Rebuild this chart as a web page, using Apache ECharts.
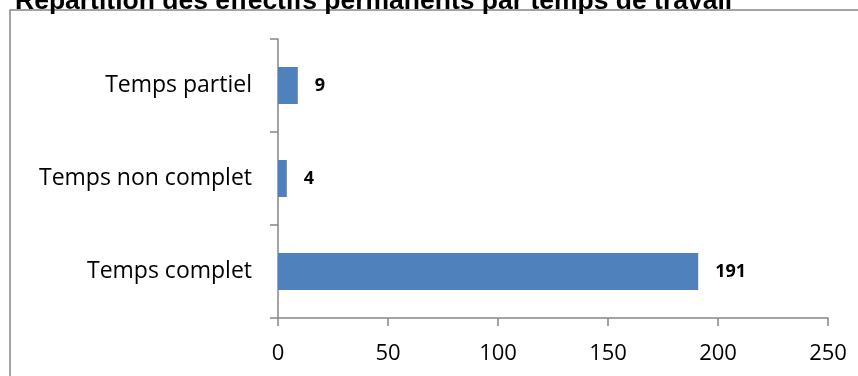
<!DOCTYPE html>
<html>
<head>
<meta charset="utf-8">
<script src="https://cdn.jsdelivr.net/npm/echarts@6/dist/echarts.min.js"></script>
<style>
  html, body { margin: 0; padding: 0; background: #fff; }
  #chart { width: 858px; height: 376px; }
</style>
</head>
<body>
<div id="chart"></div>
<script>
// Effectifs permanents par temps de travail (bas vers haut)
const categories = ['Temps complet', 'Temps non complet', 'Temps partiel'];
const effectifs = [191, 4, 9];
const titleText = 'Répartition des effectifs permanents par temps de travail';

const chart = echarts.init(document.getElementById('chart'), null, { renderer: 'canvas' });

const axisGrey = '#868686';

chart.setOption({
  animation: false,
  backgroundColor: '#ffffff',
  title: {
    text: titleText,
    left: 10,
    top: -17,
    textStyle: {
      fontFamily: 'Liberation Sans',
      fontWeight: 'bold',
      fontSize: 26.5,
      color: '#000'
    }
  },
  graphic: [{
    type: 'rect',
    shape: { x: 10, y: 10, width: 900, height: 420 },
    style: { fill: 'none', stroke: axisGrey, lineWidth: 1.5 },
    silent: true,
    z: -1
  }],
  grid: { left: 278, right: 30, top: 39, bottom: 58, containLabel: false },
  xAxis: {
    type: 'value',
    min: 0,
    max: 250,
    interval: 50,
    axisLine: { show: true, lineStyle: { color: axisGrey, width: 1.5 } },
    axisTick: { show: true, length: 8, lineStyle: { color: axisGrey, width: 1.5 } },
    splitLine: { show: false },
    axisLabel: {
      margin: 25,
      fontFamily: 'Open Sans',
      fontSize: 22,
      color: '#000'
    }
  },
  yAxis: {
    type: 'category',
    data: categories,
    axisLine: { show: true, lineStyle: { color: axisGrey, width: 1.5 } },
    axisTick: { show: true, length: 8, lineStyle: { color: axisGrey, width: 1.5 } },
    axisLabel: {
      margin: 26,
      fontFamily: 'Open Sans',
      fontSize: 23,
      color: '#000'
    }
  },
  series: [{
    type: 'bar',
    data: effectifs,
    barWidth: 37,
    itemStyle: { color: '#4f81bd' },
    label: {
      show: true,
      position: 'right',
      distance: 17,
      fontFamily: 'Open Sans',
      fontWeight: 'bold',
      fontSize: 18,
      color: '#000'
    }
  }]
});
</script>
</body>
</html>
